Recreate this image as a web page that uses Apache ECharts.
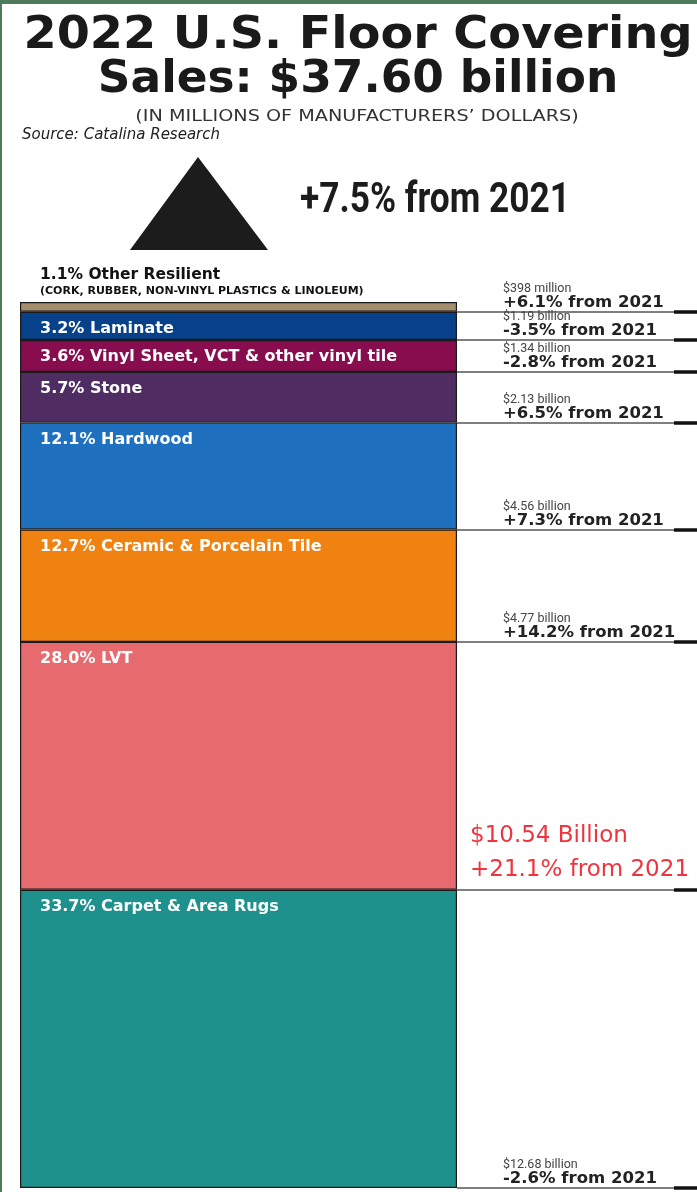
<!DOCTYPE html>
<html>
<head>
<meta charset="utf-8">
<script src="https://cdn.jsdelivr.net/npm/echarts@6/dist/echarts.min.js"></script>
<style>
  html, body { margin: 0; padding: 0; background: #fff; }
  #chart { position: absolute; left: 0; top: 0; width: 697px; height: 1192px; }
  .edge { position: absolute; background: #4e7a59; z-index: 5; }
</style>
</head>
<body>
<div id="chart"></div>
<div class="edge" style="left:0;top:0;width:697px;height:4px"></div>
<div class="edge" style="left:0;top:0;width:2px;height:1192px"></div>
<script>
const categories = [
  "Other Resilient",
  "Laminate",
  "Vinyl Sheet, VCT & other vinyl tile",
  "Stone",
  "Hardwood",
  "Ceramic & Porcelain Tile",
  "LVT",
  "Carpet & Area Rugs"
];
const shares = [1.1, 3.2, 3.6, 5.7, 12.1, 12.7, 28.0, 33.7];
const sales = [
  "$398 million", "$1.19 billion", "$1.34 billion", "$2.13 billion",
  "$4.56 billion", "$4.77 billion", "$10.54 Billion", "$12.68 billion"
];
const changes = ["+6.1%", "-3.5%", "-2.8%", "+6.5%", "+7.3%", "+14.2%", "+21.1%", "-2.6%"];
const colors = ["#a58e6e", "#06418a", "#870d4f", "#4f2d63", "#1f71c0", "#ef8211", "#e76a6e", "#1f918d"];

const chart = echarts.init(document.getElementById("chart"));

const cum = [];
shares.reduce((acc, v, i) => (cum[i] = acc + v), 0);
const total = cum[cum.length - 1];

const series = categories.map((name, i) => {
  const isLvt = name === "LVT";
  const rightLabel = isLvt
    ? {
        show: true,
        position: "insideStartTop",
        distance: [13, 3],
        formatter: "{r|" + sales[i] + "}\n{r|" + changes[i] + " from 2021}",
        rich: {
          r: { fontFamily: "DejaVu Sans", fontSize: 23, lineHeight: 34, color: "#f0333d" }
        }
      }
    : {
        show: true,
        position: "insideStartTop",
        distance: [46, 1],
        formatter: "{a|" + sales[i] + "}\n{b|" + changes[i] + " from 2021}",
        rich: {
          a: { fontFamily: "Roboto", fontSize: 12.5, lineHeight: 12, color: "#444" },
          b: { fontFamily: "DejaVu Sans", fontWeight: "bold", fontSize: 16.5, lineHeight: 16, color: "#222" }
        }
      };

  const segLabel = i === 0
    ? {
        show: true,
        position: [20, -4],
        align: "left",
        verticalAlign: "bottom",
        formatter: "{t|" + shares[i].toFixed(1) + "% " + name + "}\n{s|(CORK, RUBBER, NON-VINYL PLASTICS & LINOLEUM)}",
        rich: {
          t: { fontFamily: "DejaVu Sans", fontWeight: "bold", fontSize: 15.5, lineHeight: 18, color: "#111" },
          s: { fontFamily: "DejaVu Sans", fontWeight: "bold", fontSize: 11, lineHeight: 14, color: "#111" }
        }
      }
    : {
        show: true,
        position: [20, 17],
        align: "left",
        verticalAlign: "middle",
        formatter: shares[i].toFixed(1) + "% " + name,
        fontFamily: "DejaVu Sans",
        fontWeight: "bold",
        fontSize: 16,
        color: "#fff"
      };

  return {
    type: "bar",
    name: name,
    stack: "total",
    barWidth: "100%",
    data: [shares[i]],
    itemStyle: { color: colors[i], borderColor: "#1a1a1a", borderWidth: 1.2 },
    label: segLabel,
    markLine: {
      silent: true,
      symbol: ["none", "none"],
      data: [
        [
          { x: 457, yAxis: cum[i], lineStyle: { color: "#555", width: 1.5, type: "solid" }, label: rightLabel },
          { x: 674, yAxis: cum[i] }
        ],
        [
          { x: 674, yAxis: cum[i], lineStyle: { color: "#111", width: 3.5, type: "solid" }, label: { show: false } },
          { x: 697, yAxis: cum[i] }
        ]
      ]
    }
  };
});

const option = {
  animation: false,
  backgroundColor: "#fff",
  grid: { left: 20, top: 302, width: 437, bottom: 4 },
  xAxis: { type: "category", data: ["2022"], show: false },
  yAxis: { type: "value", inverse: true, min: 0, max: total, show: false },
  graphic: [
    {
      type: "text", x: 358, y: 36, scaleX: 1.06,
      style: { text: "2022 U.S. Floor Covering", fontFamily: "DejaVu Sans", fontWeight: "bold", fontSize: 45, fill: "#1a1a1a", align: "center", verticalAlign: "middle" }
    },
    {
      type: "text", x: 358, y: 80, scaleX: 1.01,
      style: { text: "Sales: $37.60 billion", fontFamily: "DejaVu Sans", fontWeight: "bold", fontSize: 45, fill: "#1a1a1a", align: "center", verticalAlign: "middle" }
    },
    {
      type: "text", x: 357, y: 117, scaleX: 1.2,
      style: { text: "(IN MILLIONS OF MANUFACTURERS\u2019 DOLLARS)", fontFamily: "DejaVu Sans", fontSize: 16, fill: "#333", align: "center", verticalAlign: "middle" }
    },
    {
      type: "text", x: 22, y: 135,
      style: { text: "Source: Catalina Research", fontFamily: "DejaVu Sans", fontStyle: "italic", fontSize: 15, fill: "#222", align: "left", verticalAlign: "middle" }
    },
    {
      type: "polygon",
      shape: { points: [[130, 250], [198, 157], [268, 250]] },
      style: { fill: "#1c1c1c" }
    },
    {
      type: "text", x: 300, y: 201, scaleX: 0.84,
      style: { text: "+7.5% from 2021", fontFamily: "Roboto", fontWeight: "bold", fontSize: 42, fill: "#1c1c1c", align: "left", verticalAlign: "middle" }
    }
  ],
  series: series
};

chart.setOption(option);
</script>
</body>
</html>
